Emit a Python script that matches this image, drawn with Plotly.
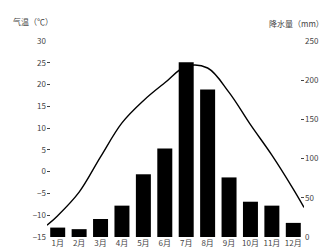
import plotly.graph_objects as go

months = [1, 2, 3, 4, 5, 6, 7, 8, 9, 10, 11, 12]
month_labels = ["1月", "2月", "3月", "4月", "5月", "6月", "7月", "8月", "9月", "10月", "11月", "12月"]
precip_mm = [12, 10, 23, 40, 80, 113, 223, 188, 76, 45, 40, 18]
temp_x = [0.5, 1, 2, 3, 4, 5, 6, 7, 8, 9, 10, 11, 12, 12.5]
temp_c = [-12.3, -10.1, -4.7, 3.4, 11.2, 16.3, 20.4, 24.2, 23.8, 18.2, 10.8, 3.8, -4.0, -8.2]
temp_ticks = [-15, -10, -5, 0, 5, 10, 15, 20, 25, 30]
precip_ticks = [0, 50, 100, 150, 200, 250]

font_family = "Noto Sans CJK SC, DejaVu Sans, sans-serif"
text_color = "#444"

fig = go.Figure()
fig.add_trace(go.Bar(x=months, y=precip_mm, width=0.7, marker=dict(color="black", line=dict(width=0)),
                     yaxis="y2", name="降水量"))
fig.add_trace(go.Scatter(x=temp_x, y=temp_c, mode="lines",
                         line=dict(color="black", width=1.4, shape="spline", smoothing=1.0),
                         yaxis="y", name="气温"))

fig.update_layout(
    width=330, height=252,
    margin=dict(l=39, r=34, t=33, b=13),
    paper_bgcolor="white", plot_bgcolor="white",
    showlegend=False,
    font=dict(family=font_family, size=8, color=text_color),
    xaxis=dict(range=[0.5, 12.5], tickvals=months, ticktext=month_labels, showgrid=False,
               zeroline=False, showline=False, ticks="", tickfont=dict(size=8)),
    yaxis=dict(range=[-15, 30], tickvals=temp_ticks, showgrid=False, zeroline=False, showline=False,
               ticks="inside", ticklen=3, tickcolor=text_color, tickfont=dict(size=8)),
    yaxis2=dict(range=[0, 250], tickvals=precip_ticks, overlaying="y", side="right", showgrid=False,
                zeroline=False, showline=False, ticks="inside", ticklen=3, tickcolor=text_color,
                tickfont=dict(size=8)),
    annotations=[
        dict(text="气温（℃）", xref="paper", yref="paper", x=-0.14, y=1.10, xanchor="left", yanchor="middle",
             showarrow=False, font=dict(size=8)),
        dict(text="降水量（mm）", xref="paper", yref="paper", x=1.085, y=1.09, xanchor="right", yanchor="middle",
             showarrow=False, font=dict(size=8)),
    ],
)

fig.write_html("out.html")
